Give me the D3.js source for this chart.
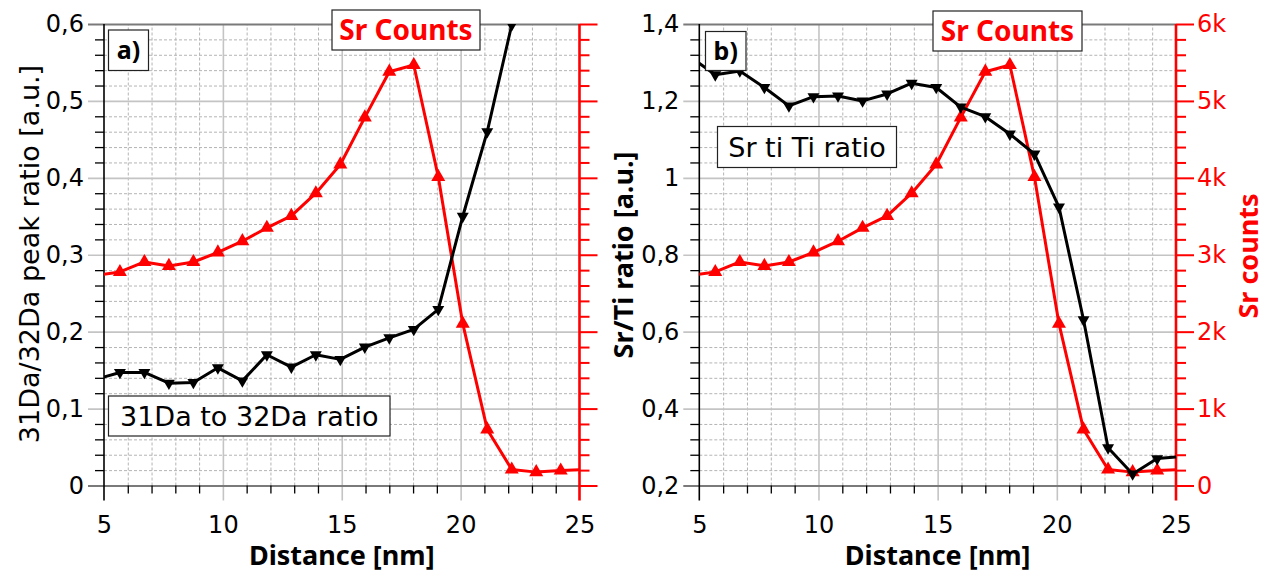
<!DOCTYPE html>
<html>
<head>
<meta charset="utf-8">
<script src="https://cdn.jsdelivr.net/npm/d3@7"></script>
<style>
  body { margin: 0; background: #fff; }
  svg { display: block; font-family: "DejaVu Sans", sans-serif; }
  .bold { font-family: "Noto Sans", sans-serif; font-weight: bold; }
</style>
</head>
<body>
<svg id="chart" width="1266" height="574"></svg>
<script>
// Measurement positions along the line profile [nm]
const distance = [4.64, 5.67, 6.70, 7.73, 8.76, 9.79, 10.82, 11.85, 12.88, 13.91, 14.94,
                  15.97, 17.00, 18.03, 19.06, 20.09, 21.12, 22.15, 23.18, 24.21, 25.24];
// Sr counts (right axes of both panels)
const srCounts = [2730, 2776, 2906, 2855, 2906, 3030, 3176, 3350, 3505, 3800, 4174,
                  4786, 5380, 5467, 4013, 2104, 729, 208, 174, 195, 207];
// Panel a: 31Da/32Da peak ratio
const ratio31to32 = [0.138, 0.147, 0.147, 0.133, 0.134, 0.153, 0.136, 0.170, 0.154, 0.170, 0.164,
                     0.180, 0.192, 0.203, 0.229, 0.350, 0.460, 0.599, 0.750, null, null];
// Panel b: Sr/Ti ratio
const srTiRatio = [1.314, 1.268, 1.278, 1.235, 1.187, 1.211, 1.213, 1.200, 1.218, 1.246, 1.235,
                   1.184, 1.159, 1.114, 1.062, 0.924, 0.631, 0.298, 0.230, 0.270, 0.275];

// Axis ticks
const distanceTicks = [5, 10, 15, 20, 25];
const ratioTicksA = [0, 0.1, 0.2, 0.3, 0.4, 0.5, 0.6];
const ratioTicksB = [0.2, 0.4, 0.6, 0.8, 1.0, 1.2, 1.4];
const countTicks = [0, 1000, 2000, 3000, 4000, 5000, 6000];

// Texts
const panelTags = ["a)", "b)"];
const ratioNames = ["31Da to 32Da ratio", "Sr ti Ti ratio"];
const countName = "Sr Counts";
const ratioTitles = ["31Da/32Da peak ratio [a.u.]", "Sr/Ti ratio [a.u.]"];
const countTitle = "Sr counts";
const distanceTitle = "Distance [nm]";

const RED = "#ff0000";
const svg = d3.select("#chart");
const locale = d3.formatLocale({ decimal: ",", thousands: ".", grouping: [3], currency: ["", ""] });
const ratioFormat = locale.format(".2~f");
const countFormat = v => v === 0 ? "0" : (v / 1000) + "k";

let clipId = 0;

function drawPanel(p) {
  const x = d3.scaleLinear().domain([5, 25]).range([p.left, p.right]);
  const y = d3.scaleLinear().domain(p.yDomain).range([p.bottom, p.top]);
  const yc = d3.scaleLinear().domain([0, 6000]).range([p.bottom, p.top]);
  const w = p.right - p.left, h = p.bottom - p.top;
  const g = svg.append("g");

  const xMinor = d3.range(5, 25.001, 1).filter(v => v % 5 !== 0);
  const yMinor = d3.range(p.yDomain[0], p.yDomain[1] + 1e-9, p.yMinorStep)
    .filter(v => !p.yTicks.some(t => Math.abs(t - v) < 1e-9));
  const cMinor = d3.range(0, 6001, 200).filter(v => v % 1000 !== 0);

  // dashed minor grid
  g.append("g").attr("transform", `translate(0,${p.bottom})`)
    .call(d3.axisBottom(x).tickValues(xMinor).tickSize(-h).tickFormat(""))
    .call(s => {
      s.select(".domain").remove();
      s.selectAll("line").attr("stroke", "#b4b4b4").attr("stroke-width", 1).attr("stroke-dasharray", "3,2");
    });
  g.append("g").attr("transform", `translate(${p.left},0)`)
    .call(d3.axisLeft(y).tickValues(yMinor).tickSize(-w).tickFormat(""))
    .call(s => {
      s.select(".domain").remove();
      s.selectAll("line").attr("stroke", "#b4b4b4").attr("stroke-width", 1).attr("stroke-dasharray", "3,2");
    });

  // solid major grid, extended out as major ticks
  g.append("g").attr("transform", `translate(0,${p.bottom})`)
    .call(d3.axisBottom(x).tickValues(distanceTicks.slice(1, -1)).tickSize(-h).tickFormat(""))
    .call(s => {
      s.select(".domain").remove();
      s.selectAll("line").attr("y1", 15).attr("stroke", "#c4c4c4").attr("stroke-width", 1.6);
    });
  g.append("g").attr("transform", `translate(${p.left},0)`)
    .call(d3.axisLeft(y).tickValues(p.yTicks).tickSize(-w).tickFormat(""))
    .call(s => {
      s.select(".domain").remove();
      s.selectAll("line").attr("x1", -16).attr("stroke", "#c4c4c4").attr("stroke-width", 1.6);
      s.selectAll(".tick").filter(d => d === p.yDomain[0] || d === p.yDomain[1])
        .select("line").attr("stroke", "#7a7a7a").attr("stroke-width", 1.8);
    });

  // minor ticks (black)
  g.append("g").attr("transform", `translate(0,${p.bottom})`)
    .call(d3.axisBottom(x).tickValues(xMinor).tickSize(8).tickFormat(""))
    .call(s => { s.select(".domain").remove(); s.selectAll("line").attr("stroke", "#000").attr("stroke-width", 1.3); });
  g.append("g").attr("transform", `translate(${p.left},0)`)
    .call(d3.axisLeft(y).tickValues(yMinor).tickSize(9).tickFormat(""))
    .call(s => { s.select(".domain").remove(); s.selectAll("line").attr("stroke", "#000").attr("stroke-width", 1.3); });

  // left axis line (extends down as the tick at x = 5)
  g.append("line").attr("x1", p.left).attr("x2", p.left)
    .attr("y1", p.top).attr("y2", p.bottom + 15)
    .attr("stroke", "#000").attr("stroke-width", 1.6);

  // tick labels
  g.append("g").attr("transform", `translate(0,${p.bottom})`)
    .call(d3.axisBottom(x).tickValues(distanceTicks).tickSize(0).tickPadding(30).tickFormat(d => d))
    .call(s => {
      s.select(".domain").remove();
      s.selectAll("text").attr("font-size", 24).attr("fill", "#000").attr("font-family", "DejaVu Sans");
    });
  g.append("g").attr("transform", `translate(${p.left},0)`)
    .call(d3.axisLeft(y).tickValues(p.yTicks).tickSize(0).tickPadding(20).tickFormat(ratioFormat))
    .call(s => {
      s.select(".domain").remove();
      s.selectAll("text").attr("font-size", 24).attr("fill", "#000").attr("font-family", "DejaVu Sans");
    });

  // data
  const cid = "plot-clip-" + (clipId++);
  svg.append("clipPath").attr("id", cid)
    .append("rect").attr("x", p.left).attr("y", p.top).attr("width", w).attr("height", h);
  const data = svg.append("g").attr("clip-path", `url(#${cid})`);

  const countPts = distance.map((d, i) => [d, srCounts[i]]);
  const ratioPts = distance.map((d, i) => [d, p.ratio[i]]).filter(d => d[1] != null);

  data.append("path").datum(countPts)
    .attr("fill", "none").attr("stroke", RED).attr("stroke-width", 3).attr("stroke-linejoin", "round")
    .attr("d", d3.line().x(d => x(d[0])).y(d => yc(d[1])));
  data.selectAll(".cm").data(countPts).join("path")
    .attr("transform", d => `translate(${x(d[0])},${yc(d[1])})`)
    .attr("d", d3.symbol(d3.symbolTriangle, 85)())
    .attr("fill", RED);

  data.append("path").datum(ratioPts)
    .attr("fill", "none").attr("stroke", "#000").attr("stroke-width", 3).attr("stroke-linejoin", "round")
    .attr("d", d3.line().x(d => x(d[0])).y(d => y(d[1])));
  data.selectAll(".rm").data(ratioPts).join("path")
    .attr("transform", d => `translate(${x(d[0])},${y(d[1])}) rotate(180)`)
    .attr("d", d3.symbol(d3.symbolTriangle, 62)())
    .attr("fill", "#000");

  // red counts axis on the right
  g.append("g").attr("transform", `translate(${p.right},0)`)
    .call(d3.axisRight(yc).tickValues(countTicks).tickSize(18).tickPadding(3)
      .tickFormat(p.countLabels ? countFormat : ""))
    .call(s => {
      s.select(".domain").remove();
      s.selectAll("line").attr("stroke", RED).attr("stroke-width", 2);
      s.selectAll("text").attr("font-size", 24).attr("fill", RED).attr("font-family", "DejaVu Sans");
    });
  g.append("g").attr("transform", `translate(${p.right},0)`)
    .call(d3.axisRight(yc).tickValues(cMinor).tickSize(10).tickFormat(""))
    .call(s => { s.select(".domain").remove(); s.selectAll("line").attr("stroke", RED).attr("stroke-width", 2); });
  g.append("line").attr("x1", p.right).attr("x2", p.right)
    .attr("y1", p.top).attr("y2", p.bottom + 15)
    .attr("stroke", RED).attr("stroke-width", 2.6);

  // axis titles
  g.append("text").attr("class", "bold").attr("x", (p.left + p.right) / 2).attr("y", 565)
    .attr("text-anchor", "middle").attr("font-size", 27)
    .text(distanceTitle);
  g.append("text").attr("class", p.yTitleBold ? "bold" : null)
    .attr("transform", `translate(${p.yTitleX},${p.yTitleY}) rotate(-90)`)
    .attr("text-anchor", "middle").attr("font-size", p.yTitleSize)
    .text(p.yTitle);
  if (p.countLabels) {
    g.append("text").attr("class", "bold").attr("transform", `translate(1258,256) rotate(-90)`)
      .attr("text-anchor", "middle").attr("font-size", 27).attr("fill", RED)
      .text(countTitle);
  }

  // labelled boxes
  const box = (b, label, opts) => {
    const gb = svg.append("g");
    gb.append("rect").attr("x", b[0]).attr("y", b[1]).attr("width", b[2] - b[0]).attr("height", b[3] - b[1])
      .attr("fill", "#fff").attr("stroke", "#222").attr("stroke-width", 1.2);
    gb.append("text").attr("class", opts.bold ? "bold" : null)
      .attr("x", (b[0] + b[2]) / 2).attr("y", (b[1] + b[3]) / 2).attr("dy", "0.36em")
      .attr("text-anchor", "middle").attr("font-size", opts.size)
      .attr("fill", opts.color || "#000")
      .text(label);
  };
  box(p.tagBox, p.tag, { size: 25, bold: true });
  box(p.nameBox, p.name, { size: 27 });
  box(p.countBox, countName, { size: 28, bold: true, color: RED });
}

drawPanel({
  left: 104, right: 579.5, top: 24, bottom: 485.5,
  yDomain: [0, 0.6], yTicks: ratioTicksA, yMinorStep: 0.02,
  ratio: ratio31to32, countLabels: false,
  yTitle: ratioTitles[0], yTitleX: 39, yTitleY: 254, yTitleSize: 27, yTitleBold: false,
  tag: panelTags[0], tagBox: [108.5, 30, 148.5, 70.5],
  name: ratioNames[0], nameBox: [108.5, 396, 390, 436],
  countBox: [332, 10, 480, 50]
});

drawPanel({
  left: 699.3, right: 1176, top: 24, bottom: 485.5,
  yDomain: [0.2, 1.4], yTicks: ratioTicksB, yMinorStep: 0.04,
  ratio: srTiRatio, countLabels: true,
  yTitle: ratioTitles[1], yTitleX: 633, yTitleY: 255, yTitleSize: 27, yTitleBold: true,
  tag: panelTags[1], tagBox: [705.5, 31.5, 746, 70.5],
  name: ratioNames[1], nameBox: [717.5, 126.5, 896.5, 167.5],
  countBox: [933, 11, 1082, 51]
});
</script>
</body>
</html>
